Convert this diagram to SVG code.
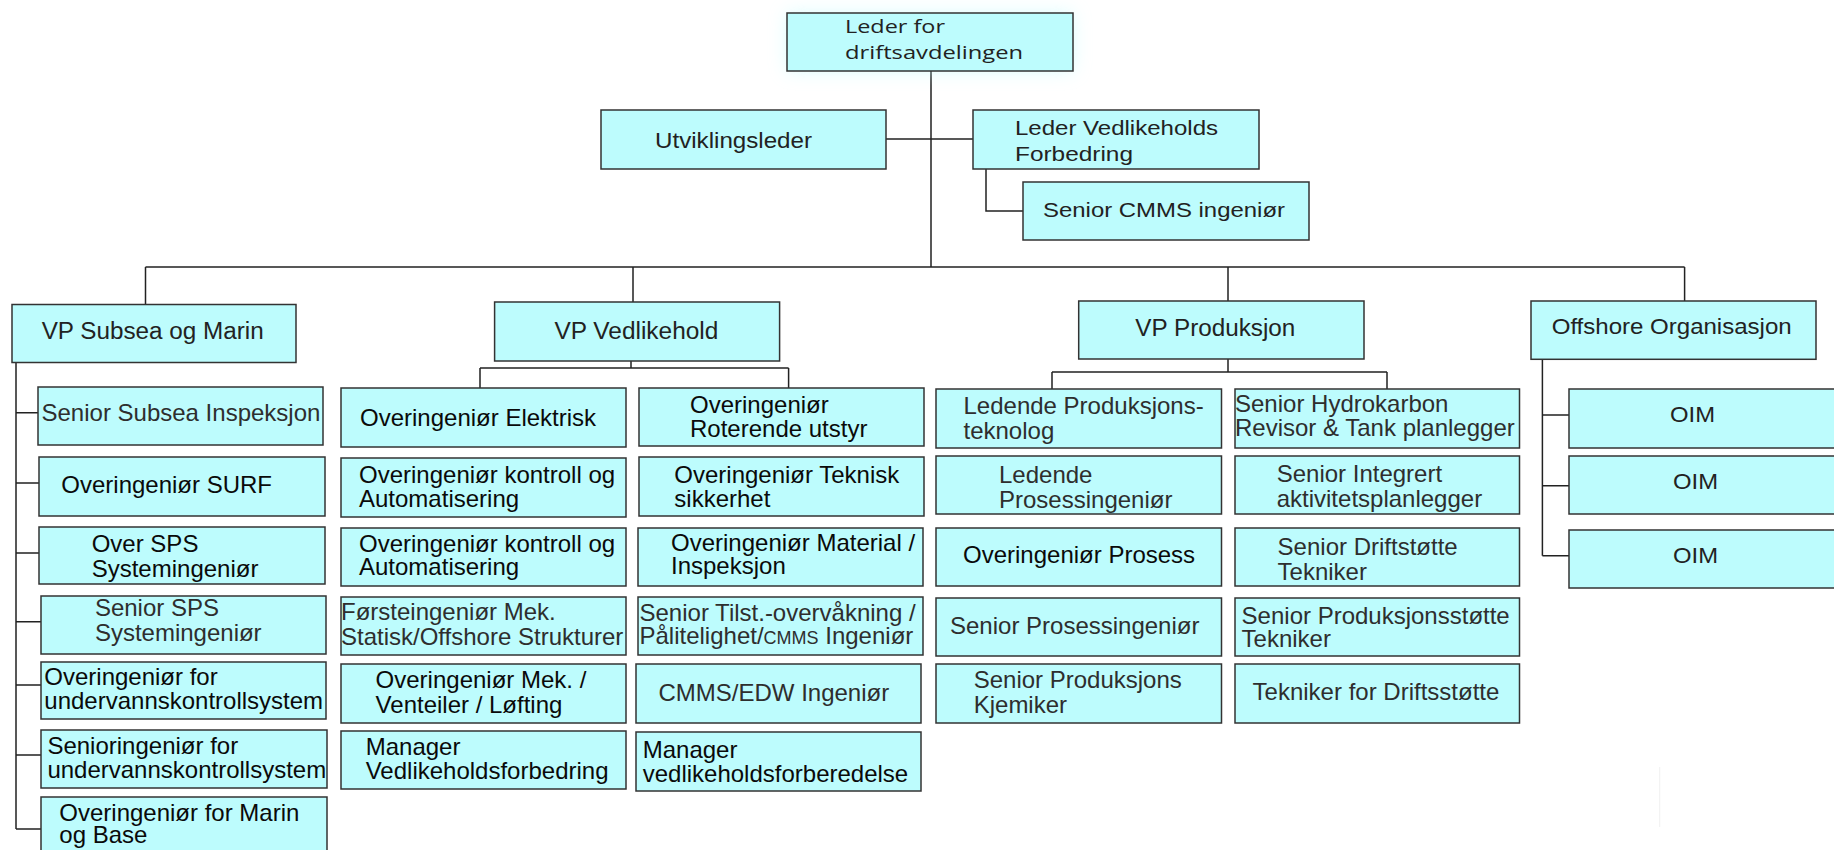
<svg xmlns="http://www.w3.org/2000/svg" width="1834" height="850" viewBox="0 0 1834 850">
<style>
.box{fill:#BDFCFD;stroke:#333;stroke-width:1.5}
.t{font-family:"Liberation Sans",Arial,sans-serif;font-size:24px;fill:#0a0a0a}
.l{fill:#2e2e2e}
.h{font-size:22px;fill:#222}
.os{font-family:"Open Sans","Liberation Sans",sans-serif;font-size:18px;fill:#222}
.c{stroke:#222;stroke-width:1.5;fill:none}
</style>
<defs>
<filter id="glow" x="-30%" y="-60%" width="160%" height="220%"><feGaussianBlur stdDeviation="9"/></filter>
</defs>
<rect width="1834" height="850" fill="#fff"/>
<g id="connectors">
<path class="c" d="M931,71V267M886,139H973M986,169V211H1023M145.5,267H1684.6M145.5,267V304M633,267V302M1228,267V301M1684.6,267V301"/>
<path class="c" d="M16,363V829M16,412.7H38M16,483H39M16,553H39M16,621.7H41M16,685H41M16,755H41M16,829H41"/>
<path class="c" d="M631,361V368M480,368H788.6M480,368V388M788.6,368V388"/>
<path class="c" d="M1228,359V372M1052,372H1387M1052,372V389M1387,372V389"/>
<path class="c" d="M1542.4,359V555.7M1542.4,415H1569M1542.4,485.7H1569M1542.4,555.7H1569"/>
<path d="M1659.7,767V827" stroke="#f0f0f0" stroke-width="1"/>
</g>
<g id="n_leder">
<rect x="787" y="13" width="286" height="58" fill="#BDFCFD" opacity="0.55" filter="url(#glow)"/>
<rect class="box" x="787" y="13" width="286" height="58"/>
<text class="os" x="845" y="33" textLength="100" lengthAdjust="spacingAndGlyphs">Leder for</text>
<text class="os" x="845" y="59" textLength="178" lengthAdjust="spacingAndGlyphs">driftsavdelingen</text>
</g>
<g id="n_utv"><rect class="box" x="601" y="110" width="285" height="59"/>
<text class="t h" x="655" y="148" textLength="157" lengthAdjust="spacingAndGlyphs">Utviklingsleder</text></g>
<g id="n_ledvedl"><rect class="box" x="973" y="110" width="286" height="59"/>
<text class="t h" x="1015" y="135" style="font-size:20px" textLength="203" lengthAdjust="spacingAndGlyphs">Leder Vedlikeholds</text>
<text class="t h" x="1015" y="161" style="font-size:20px" textLength="118" lengthAdjust="spacingAndGlyphs">Forbedring</text></g>
<g id="n_cmms"><rect class="box" x="1023" y="182" width="286" height="58"/>
<text class="t h" x="1043" y="217" style="font-size:21px" textLength="242" lengthAdjust="spacingAndGlyphs">Senior CMMS ingeniør</text></g>
<g id="vp_subsea"><rect class="box" x="12" y="304.5" width="284" height="58"/>
<text class="t h" x="41.7" y="339" style="font-size:23px" textLength="222" lengthAdjust="spacingAndGlyphs">VP Subsea og Marin</text></g>
<g id="vp_vedl"><rect class="box" x="494.6" y="302" width="285" height="59"/>
<text class="t h" x="554.4" y="339" style="font-size:23px" textLength="164" lengthAdjust="spacingAndGlyphs">VP Vedlikehold</text></g>
<g id="vp_prod"><rect class="box" x="1078.7" y="301" width="285.3" height="58"/>
<text class="t h" x="1135.3" y="335.5" style="font-size:23px" textLength="160" lengthAdjust="spacingAndGlyphs">VP Produksjon</text></g>
<g id="offshore"><rect class="box" x="1531" y="301" width="285" height="58.3"/>
<text class="t h" x="1551.7" y="333.5" textLength="240" lengthAdjust="spacingAndGlyphs">Offshore Organisasjon</text></g>
<g id="oim1"><rect class="box" x="1569" y="389" width="280" height="59"/>
<text class="t h" x="1670" y="422.3" textLength="45" lengthAdjust="spacingAndGlyphs">OIM</text></g>
<g id="oim2"><rect class="box" x="1569" y="456" width="280" height="58"/>
<text class="t h" x="1673" y="489" textLength="45" lengthAdjust="spacingAndGlyphs">OIM</text></g>
<g id="oim3"><rect class="box" x="1569" y="530" width="280" height="58"/>
<text class="t h" x="1673" y="562.7" textLength="45" lengthAdjust="spacingAndGlyphs">OIM</text></g>
<g id="s1"><rect class="box" x="38" y="387" width="285" height="58"/>
<text class="t l" x="41.5" y="420.7">Senior Subsea Inspeksjon</text></g>
<g id="s2"><rect class="box" x="39" y="457" width="286" height="59"/>
<text class="t" x="61.3" y="493.3">Overingeniør SURF</text></g>
<g id="s3"><rect class="box" x="39" y="527" width="286" height="57"/>
<text class="t" x="91.7" y="551.7">Over SPS</text><text class="t" x="91.7" y="576.7">Systemingeniør</text></g>
<g id="s4"><rect class="box" x="41" y="596" width="285" height="58"/>
<text class="t l" x="94.9" y="616">Senior SPS</text><text class="t l" x="94.9" y="640.7">Systemingeniør</text></g>
<g id="s5"><rect class="box" x="41" y="662" width="285" height="57"/>
<text class="t" x="44.3" y="685">Overingeniør for</text><text class="t" x="44.3" y="709.3">undervannskontrollsystem</text></g>
<g id="s6"><rect class="box" x="41" y="730" width="286" height="58"/>
<text class="t" x="47.4" y="754.3">Senioringeniør for</text><text class="t" x="47.4" y="778.3">undervannskontrollsystem</text></g>
<g id="s7"><rect class="box" x="41" y="797" width="286" height="60"/>
<text class="t" x="59.3" y="821">Overingeniør for Marin</text><text class="t" x="59.3" y="843.3">og Base</text></g>
<g id="v1"><rect class="box" x="341" y="388" width="285" height="59"/>
<text class="t" x="360" y="426">Overingeniør Elektrisk</text></g>
<g id="v2"><rect class="box" x="341" y="458" width="285" height="59"/>
<text class="t" x="359" y="483">Overingeniør kontroll og</text><text class="t" x="359" y="506.5">Automatisering</text></g>
<g id="v3"><rect class="box" x="341" y="528" width="285" height="58"/>
<text class="t" x="359" y="551.7">Overingeniør kontroll og</text><text class="t" x="359" y="575">Automatisering</text></g>
<g id="v4"><rect class="box" x="341" y="597" width="285" height="58"/>
<text class="t l" x="341" y="620">Førsteingeniør Mek.</text><text class="t l" x="341" y="645">Statisk/Offshore Strukturer</text></g>
<g id="v5"><rect class="box" x="341" y="664" width="285" height="59"/>
<text class="t" x="375.6" y="688.3">Overingeniør Mek. /</text><text class="t" x="375.6" y="712.7">Venteiler / Løfting</text></g>
<g id="v6"><rect class="box" x="341" y="731" width="285" height="58"/>
<text class="t" x="365.7" y="755">Manager</text><text class="t" x="365.7" y="779.3">Vedlikeholdsforbedring</text></g>
<g id="w1"><rect class="box" x="639" y="388" width="285" height="58"/>
<text class="t" x="690" y="412.7">Overingeniør</text><text class="t" x="690" y="436.7">Roterende utstyr</text></g>
<g id="w2"><rect class="box" x="639" y="457" width="285" height="59"/>
<text class="t" x="674.3" y="482.7">Overingeniør Teknisk</text><text class="t" x="674.3" y="506.7">sikkerhet</text></g>
<g id="w3"><rect class="box" x="638" y="528" width="285" height="58"/>
<text class="t" x="671" y="551">Overingeniør Material /</text><text class="t" x="671" y="574">Inspeksjon</text></g>
<g id="w4"><rect class="box" x="638" y="597" width="285" height="58"/>
<text class="t l" x="639.5" y="620.7">Senior Tilst.-overvåkning /</text><text class="t l" x="639.5" y="644.3">Pålitelighet/<tspan style="font-size:18px">CMMS</tspan> Ingeniør</text></g>
<g id="w5"><rect class="box" x="636" y="664" width="285" height="59"/>
<text class="t l" x="658.5" y="701">CMMS/EDW Ingeniør</text></g>
<g id="w6"><rect class="box" x="636" y="732" width="285" height="59"/>
<text class="t" x="642.7" y="757.7">Manager</text><text class="t" x="642.7" y="781.7">vedlikeholdsforberedelse</text></g>
<g id="p1"><rect class="box" x="936" y="389" width="285.5" height="59"/>
<text class="t l" x="963.5" y="414">Ledende Produksjons-</text><text class="t l" x="963.5" y="438.5">teknolog</text></g>
<g id="p2"><rect class="box" x="936" y="456" width="285.5" height="58"/>
<text class="t l" x="999" y="482.7">Ledende</text><text class="t l" x="999" y="507.5">Prosessingeniør</text></g>
<g id="p3"><rect class="box" x="936" y="528" width="285.5" height="58"/>
<text class="t" x="963" y="563.3">Overingeniør Prosess</text></g>
<g id="p4"><rect class="box" x="936" y="598" width="285.5" height="58"/>
<text class="t l" x="950" y="634">Senior Prosessingeniør</text></g>
<g id="p5"><rect class="box" x="936" y="664" width="285.5" height="59"/>
<text class="t l" x="973.7" y="688.3">Senior Produksjons</text><text class="t l" x="973.7" y="712.7">Kjemiker</text></g>
<g id="q1"><rect class="box" x="1235" y="389" width="284.5" height="59"/>
<text class="t l" x="1235" y="411.7">Senior Hydrokarbon</text><text class="t l" x="1235" y="436">Revisor &amp; Tank planlegger</text></g>
<g id="q2"><rect class="box" x="1235" y="456" width="284.5" height="58"/>
<text class="t l" x="1276.7" y="481.7">Senior Integrert</text><text class="t l" x="1276.7" y="506.7">aktivitetsplanlegger</text></g>
<g id="q3"><rect class="box" x="1235" y="528" width="284.5" height="58"/>
<text class="t l" x="1277.6" y="555">Senior Driftstøtte</text><text class="t l" x="1277.6" y="580">Tekniker</text></g>
<g id="q4"><rect class="box" x="1235" y="598" width="284.5" height="58"/>
<text class="t l" x="1241.6" y="624">Senior Produksjonsstøtte</text><text class="t l" x="1241.6" y="647.3">Tekniker</text></g>
<g id="q5"><rect class="box" x="1235" y="664" width="284.5" height="59"/>
<text class="t l" x="1252.6" y="700">Tekniker for Driftsstøtte</text></g>
</svg>
